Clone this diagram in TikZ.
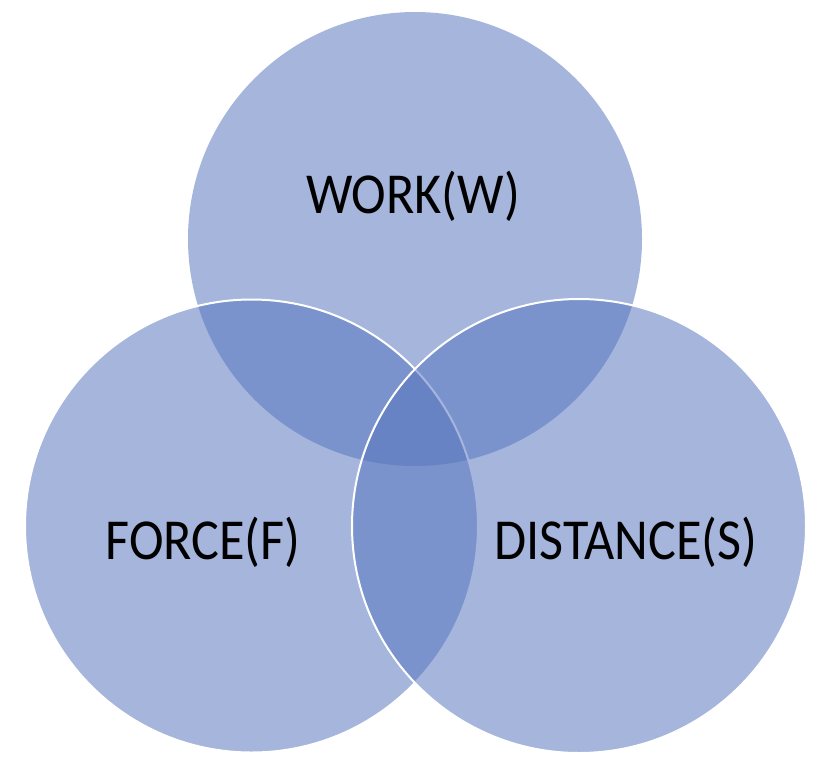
\documentclass[tikz,border=0pt]{standalone}
\usepackage{fontspec}
\setmainfont{Carlito}
\definecolor{vennblue}{RGB}{86,117,190}
\begin{document}
\begin{tikzpicture}[x=1pt,y=-1pt,
  venn/.style={fill=vennblue,fill opacity=0.53},
  vennedge/.style={venn,draw=white,line width=2pt,draw opacity=1},
  lbl/.style={anchor=base,font=\fontsize{58}{70}\selectfont,text=black,inner sep=0pt,xscale=0.9}]
\useasboundingbox (0,0) rectangle (826,779);
\fill[white] (0,0) rectangle (826,779);
\path[venn] (415,239) circle[radius=227];
\path[vennedge] (251.5,526) circle[radius=226.5];
\path[vennedge] (579,526) circle[radius=227];
\node[lbl] (work) at (413,213) {WORK(W)};
\node[lbl] (force) at (203,559) {FORCE(F)};
\node[lbl] (dist) at (626,559) {DISTANCE(S)};
\end{tikzpicture}
\end{document}
